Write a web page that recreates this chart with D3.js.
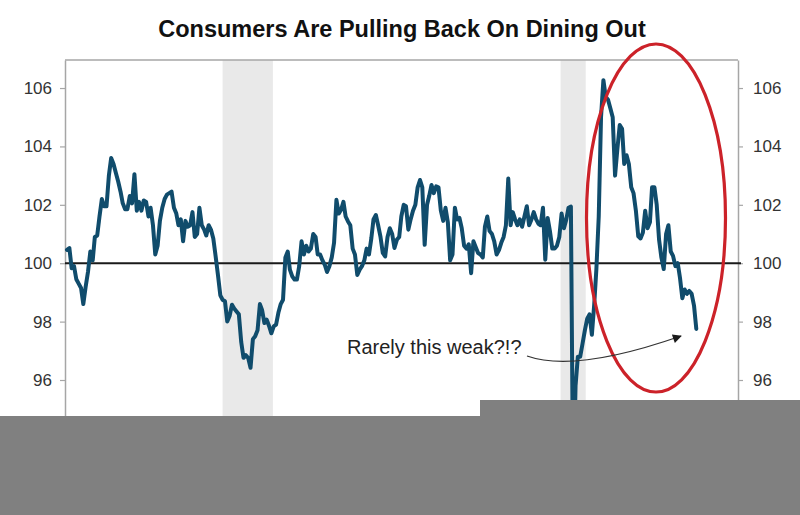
<!DOCTYPE html>
<html><head><meta charset="utf-8">
<script src="https://cdn.jsdelivr.net/npm/d3@7"></script>
<style>html,body{margin:0;padding:0;background:#fff;}svg{display:block;}</style>
</head><body>
<svg id="chart" width="800" height="515"></svg>
<script>
// ---- data ----
const title = "Consumers Are Pulling Back On Dining Out";
const startMonth = "2002-03";
const values = [
100.46,100.52,99.83,99.9,99.45,99.3,99.15,98.6,99.2,99.7,
100.4,100.1,100.9,100.95,101.6,102.2,101.95,101.95,103.0,103.6,
103.4,103.1,102.8,102.45,102.05,101.85,101.85,102.3,102.05,103.05,
101.8,102.1,101.8,102.15,102.1,101.6,101.9,101.3,100.3,100.6,
101.45,101.9,102.2,102.35,102.4,102.45,101.9,101.7,101.3,101.5,
100.75,101.45,101.25,101.3,101.75,100.9,101.0,101.9,101.3,101.15,
100.95,101.3,101.15,100.85,100.25,99.6,98.9,98.75,98.7,98.0,
98.2,98.58,98.45,98.35,98.25,97.3,96.76,96.85,96.75,96.42,
97.4,97.5,97.7,98.6,98.4,97.95,98.07,97.85,97.6,97.84,
97.9,98.3,98.6,98.75,100.2,100.4,99.78,99.55,99.44,99.44,
99.9,100.75,100.3,100.6,100.4,100.5,101.0,100.9,100.3,100.3,
100.1,99.95,99.7,99.9,100.2,100.7,102.17,101.7,101.83,102.1,
101.6,101.43,101.3,100.5,100.3,99.6,99.78,99.9,100.1,100.5,
100.3,100.86,101.5,101.65,101.3,100.9,100.35,100.23,100.9,101.2,
101.0,100.52,100.8,100.9,101.6,102.0,101.95,101.15,101.5,101.8,
102.0,102.6,102.85,102.6,100.63,102.0,102.3,102.68,102.4,102.63,
102.6,101.8,101.45,101.9,101.4,100.1,100.3,101.9,101.5,101.55,
101.2,100.6,100.5,100.65,99.66,100.75,100.55,100.35,100.3,100.2,
101.25,101.6,101.1,101.0,100.75,100.3,100.45,100.7,100.9,101.3,
102.9,101.3,101.75,101.5,101.3,101.5,101.25,101.6,101.95,101.3,
101.5,101.75,101.5,101.35,101.3,101.9,100.12,101.55,101.1,100.5,
100.5,100.6,100.9,101.7,101.2,101.5,101.9,101.94,92.0,95.8,
96.8,96.8,97.25,97.7,98.1,98.25,97.55,98.6,99.8,101.6,
105.0,106.27,105.7,105.6,105.3,105.0,103.0,103.9,104.73,104.6,
103.4,103.7,103.4,102.6,102.4,101.8,100.92,100.85,101.05,101.8,
101.2,101.4,102.6,102.6,102.0,100.8,100.2,99.8,101.0,101.3,
100.4,100.25,99.9,100.0,99.5,98.8,99.1,98.95,99.05,98.95,
98.55,97.75
];
const recessionStarts = ["2007-10-01","2019-11-18"];
const recessionEnds   = ["2009-07-21","2020-10-12"];
const yTicks = [96, 98, 100, 102, 104, 106];
const baseline = 100;
const annotationText = "Rarely this weak?!?";

// ---- build ----
const parseM = d3.timeParse("%Y-%m");
const parseD = d3.timeParse("%Y-%m-%d");
const t0 = parseM(startMonth);
const series = values.map((v, i) => ({date: d3.timeMonth.offset(t0, i), value: v}));
const bands = recessionStarts.map((s, i) => ({start: parseD(s), end: parseD(recessionEnds[i])}));

const svg = d3.select("#chart");
const plotLeft = 65, plotRight = 738, plotTop = 60;

const x = d3.scaleTime()
  .domain([series[0].date, series[series.length - 1].date])
  .range([67, 696.3]);
const y = d3.scaleLinear().domain([92, 106.96]).range([496.8, 60]);

// recession bands
svg.append("g").selectAll("rect").data(bands).join("rect")
  .attr("x", d => x(d.start)).attr("y", plotTop)
  .attr("width", d => x(d.end) - x(d.start))
  .attr("height", y(92) - plotTop)
  .attr("fill", "#e9e9e9");

// frame: top border
svg.append("line").attr("x1", plotLeft).attr("x2", plotRight).attr("y1", plotTop).attr("y2", plotTop)
  .attr("stroke", "#a6a6a6").attr("stroke-width", 1.5);

// axes
const axL = d3.axisLeft(y).tickValues(yTicks).tickSize(5).tickSizeOuter(0).tickPadding(8).tickFormat(d3.format("d"));
const axR = d3.axisRight(y).tickValues(yTicks).tickSize(5).tickSizeOuter(0).tickPadding(10).tickFormat(d3.format("d"));
function styleAxis(g) {
  g.select(".domain").attr("stroke", "#a6a6a6").attr("stroke-width", 1.5);
  g.selectAll(".tick line").attr("stroke", "#a6a6a6").attr("stroke-width", 1.2);
  g.selectAll(".tick text").attr("fill", "#333").style("font-size", "17px")
    .style("font-family", "'Liberation Sans', Arial, sans-serif");
}
svg.append("g").attr("transform", `translate(${plotLeft},0)`).call(axL).call(styleAxis);
svg.append("g").attr("transform", `translate(${plotRight},0)`).call(axR).call(styleAxis);

// baseline at 100
svg.append("line").attr("x1", plotLeft).attr("x2", 741)
  .attr("y1", y(baseline)).attr("y2", y(baseline))
  .attr("stroke", "#1a1a1a").attr("stroke-width", 2);

// series line
svg.append("path").datum(series)
  .attr("fill", "none").attr("stroke", "#104c6c").attr("stroke-width", 4)
  .attr("stroke-linejoin", "round").attr("stroke-linecap", "round")
  .attr("d", d3.line().x(d => x(d.date)).y(d => y(d.value)));

// title
svg.append("text").attr("x", 402).attr("y", 37).attr("text-anchor", "middle")
  .style("font-family", "'Liberation Sans', Arial, sans-serif").style("font-weight", "bold")
  .style("font-size", "23.5px").attr("fill", "#111").text(title);

// red ellipse
svg.append("ellipse").attr("cx", 656).attr("cy", 218).attr("rx", 69.5).attr("ry", 174)
  .attr("fill", "none").attr("stroke", "#cc2229").attr("stroke-width", 3.2);

// annotation
const defs = svg.append("defs");
defs.append("marker").attr("id", "ah").attr("viewBox", "0 0 10 10").attr("refX", 9).attr("refY", 5)
  .attr("markerWidth", 11).attr("markerHeight", 9).attr("markerUnits", "userSpaceOnUse")
  .attr("orient", "auto")
  .append("path").attr("d", "M0,0 L10,5 L0,10 Z").attr("fill", "#1a1a1a");
svg.append("path").attr("d", "M527,356 Q575,373 681,336")
  .attr("fill", "none").attr("stroke", "#333").attr("stroke-width", 1.3)
  .attr("marker-end", "url(#ah)");
svg.append("text").attr("x", 347).attr("y", 354)
  .style("font-family", "'Liberation Sans', Arial, sans-serif").style("font-size", "20px")
  .attr("fill", "#222").text(annotationText);

// grey redaction blocks
svg.append("rect").attr("x", 0).attr("y", 416).attr("width", 480).attr("height", 99).attr("fill", "#808080");
svg.append("rect").attr("x", 480).attr("y", 400).attr("width", 320).attr("height", 115).attr("fill", "#808080");
</script>
</body></html>
